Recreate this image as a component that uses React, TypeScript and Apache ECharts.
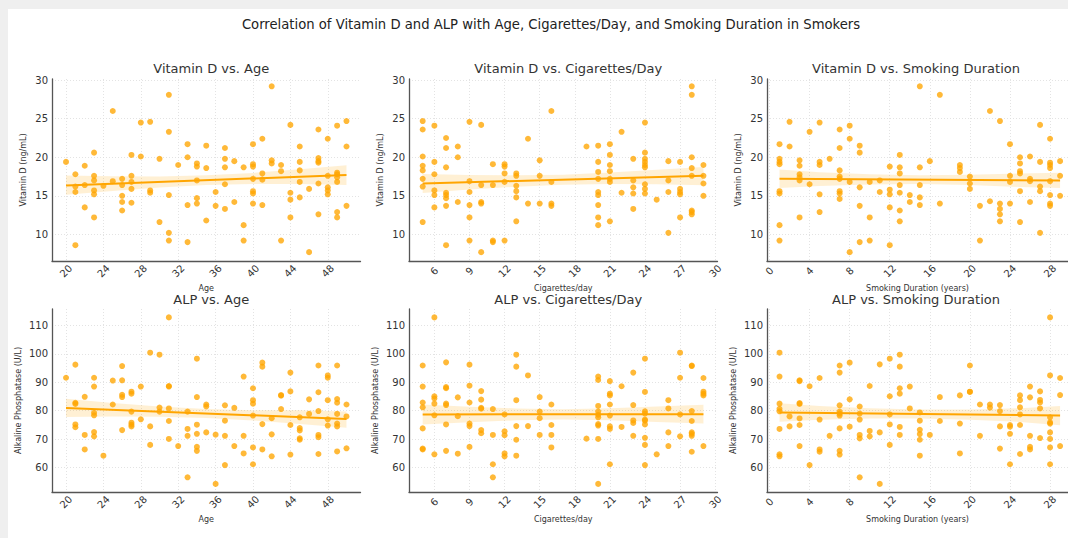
import React, { useEffect, useRef } from "react";
import * as echarts from "echarts";

// ---------- data ----------
const vitdAge: number[][] = [
  [20, 19.4],
  [21, 17.8], [21, 16.2], [21, 15.5], [21, 8.6],
  [22, 18.9], [22, 16.4], [22, 13.5],
  [23, 20.6], [23, 17.6], [23, 17.0], [23, 15.7], [23, 15.2], [23, 12.2],
  [24, 16.3],
  [25, 26.0], [25, 16.9],
  [26, 17.2], [26, 16.4], [26, 15.0], [26, 14.2], [26, 13.1],
  [27, 20.3], [27, 17.6], [27, 16.8], [27, 15.9], [27, 14.1],
  [28, 24.5], [28, 20.1],
  [29, 24.6], [29, 15.7], [29, 15.4],
  [30, 19.8], [30, 11.6],
  [31, 28.1], [31, 23.3], [31, 15.1], [31, 10.2], [31, 9.2],
  [32, 19.0],
  [33, 21.7], [33, 20.0], [33, 13.8], [33, 9.0],
  [34, 19.2], [34, 18.8], [34, 17.0], [34, 14.7], [34, 14.0],
  [35, 21.5], [35, 18.6], [35, 11.8],
  [36, 15.5], [36, 13.7],
  [37, 21.2], [37, 19.8], [37, 18.7], [37, 16.5], [37, 13.3],
  [38, 19.5], [38, 14.2],
  [39, 18.7], [39, 11.2], [39, 9.2],
  [40, 21.7], [40, 19.1], [40, 18.8], [40, 17.2], [40, 15.6], [40, 15.3], [40, 14.0],
  [41, 22.4], [41, 17.9], [41, 17.1], [41, 13.8],
  [42, 29.2], [42, 19.6], [42, 19.2],
  [43, 19.0], [43, 18.2], [43, 9.2],
  [44, 24.2], [44, 15.4], [44, 14.5], [44, 12.2],
  [45, 21.4], [45, 19.4], [45, 18.3], [45, 16.8], [45, 14.8],
  [46, 15.9], [46, 7.7],
  [47, 23.6], [47, 19.9], [47, 19.5], [47, 19.3], [47, 16.6], [47, 12.6],
  [48, 22.4], [48, 17.6], [48, 16.1], [48, 15.7], [48, 15.2],
  [49, 24.1], [49, 18.0], [49, 17.8], [49, 17.4], [49, 16.8], [49, 12.9], [49, 12.2],
  [50, 24.7], [50, 21.4], [50, 13.7],
];

const vitdCig: number[][] = [
  [5, 24.7], [5, 23.6], [5, 20.1], [5, 18.9], [5, 18.3], [5, 17.2], [5, 16.2], [5, 11.6],
  [6, 24.1], [6, 19.4], [6, 17.8], [6, 15.7], [6, 15.1], [6, 13.5],
  [7, 22.5], [7, 21.2], [7, 18.7], [7, 15.4], [7, 15.1], [7, 14.7], [7, 13.7], [7, 8.6],
  [8, 21.4], [8, 20.0], [8, 14.2],
  [9, 24.6], [9, 16.9], [9, 15.5], [9, 13.8], [9, 12.2], [9, 9.2],
  [10, 24.2], [10, 16.4], [10, 14.2], [10, 14.0], [10, 7.7],
  [11, 19.1], [11, 16.4], [11, 9.2], [11, 9.0],
  [12, 19.1], [12, 18.8], [12, 17.9], [12, 16.8], [12, 9.2],
  [13, 17.9], [13, 17.6], [13, 16.3], [13, 15.6], [13, 14.8], [13, 11.7],
  [14, 22.4], [14, 14.0],
  [15, 19.6], [15, 17.6], [15, 14.0],
  [16, 26.0], [16, 16.8], [16, 14.0], [16, 13.7],
  [19, 21.4],
  [20, 21.5], [20, 19.4], [20, 18.1], [20, 17.2], [20, 15.5], [20, 15.1], [20, 13.8], [20, 12.2], [20, 11.2],
  [21, 21.7], [21, 20.3], [21, 19.0], [21, 18.2], [21, 17.2], [21, 16.8], [21, 11.7],
  [22, 23.3], [22, 15.4],
  [23, 19.8], [23, 17.0], [23, 16.1], [23, 15.3], [23, 13.3],
  [24, 24.5], [24, 20.6], [24, 19.8], [24, 19.4], [24, 19.0], [24, 18.7], [24, 16.5], [24, 15.9], [24, 15.3],
  [25, 14.5],
  [26, 19.5], [26, 17.0], [26, 15.5], [26, 10.2],
  [27, 19.4], [27, 15.9], [27, 15.5], [27, 15.2], [27, 12.2],
  [28, 29.2], [28, 28.1], [28, 20.0], [28, 18.6], [28, 17.6], [28, 13.1], [28, 12.9], [28, 12.6],
  [29, 19.0], [29, 17.6], [29, 16.6], [29, 15.0],
];

const vitdDur: number[][] = [
  [1, 21.7], [1, 19.8], [1, 19.4], [1, 19.1], [1, 15.6], [1, 15.3], [1, 11.2], [1, 9.2],
  [2, 24.6], [2, 21.4],
  [3, 19.6], [3, 18.9], [3, 17.8], [3, 17.4], [3, 17.0], [3, 12.2],
  [4, 23.3], [4, 16.5],
  [5, 24.5], [5, 19.4], [5, 19.0], [5, 15.2], [5, 12.9],
  [6, 19.8],
  [7, 23.6], [7, 21.2], [7, 18.3], [7, 17.5], [7, 17.2], [7, 15.6], [7, 15.3], [7, 14.6],
  [8, 24.1], [8, 22.4], [8, 16.8], [8, 7.7],
  [9, 21.5], [9, 20.6], [9, 16.1], [9, 13.7], [9, 9.0],
  [10, 16.8], [10, 12.2], [10, 9.2],
  [11, 17.0], [11, 15.5],
  [12, 18.8], [12, 15.8], [12, 15.2], [12, 13.5], [12, 8.6],
  [13, 20.3], [13, 18.7], [13, 17.9], [13, 16.4], [13, 15.4], [13, 13.1], [13, 11.7],
  [14, 15.1], [14, 14.2],
  [15, 29.2], [15, 18.7], [15, 16.4], [15, 14.8], [15, 13.8],
  [16, 19.5],
  [17, 28.1], [17, 14.0],
  [19, 19.0], [19, 18.6], [19, 18.1],
  [20, 17.5], [20, 16.6], [20, 15.9],
  [21, 13.7], [21, 9.2],
  [22, 26.0], [22, 14.3],
  [23, 24.7], [23, 14.0], [23, 13.3], [23, 12.6], [23, 11.7],
  [24, 21.7], [24, 17.6], [24, 16.8], [24, 14.0],
  [25, 20.0], [25, 19.2], [25, 18.2], [25, 17.9], [25, 15.6], [25, 11.6],
  [26, 20.1], [26, 17.2], [26, 16.9], [26, 14.2],
  [27, 24.2], [27, 19.4], [27, 16.2], [27, 15.6], [27, 10.2],
  [28, 22.4], [28, 19.3], [28, 19.0], [28, 18.6], [28, 16.9], [28, 15.1], [28, 14.0], [28, 13.7],
  [29, 19.5], [29, 17.6], [29, 15.0],
];

const alpAge: number[][] = [
  [20, 91.6],
  [21, 96.2], [21, 82.8], [21, 82.4], [21, 75.2], [21, 74.2],
  [22, 84.9], [22, 71.5], [22, 66.4],
  [23, 91.6], [23, 88.5], [23, 79.3], [23, 78.4], [23, 72.5], [23, 71.0],
  [24, 64.2],
  [25, 90.6], [25, 82.2],
  [26, 95.7], [26, 90.7], [26, 85.6], [26, 84.8], [26, 73.2],
  [27, 86.7], [27, 86.0], [27, 79.7], [27, 75.8], [27, 75.1], [27, 74.5],
  [28, 88.5], [28, 77.0],
  [29, 100.4], [29, 74.5], [29, 68.0],
  [30, 99.7], [30, 81.1], [30, 79.7],
  [31, 112.8], [31, 88.7], [31, 88.5], [31, 80.8], [31, 76.4], [31, 70.1],
  [32, 67.6],
  [33, 79.7], [33, 73.6], [33, 71.2], [33, 56.6],
  [34, 98.3], [34, 84.8], [34, 75.1], [34, 71.9], [34, 67.3], [34, 65.9],
  [35, 82.2], [35, 81.5], [35, 72.4],
  [36, 71.6], [36, 54.3],
  [37, 81.9], [37, 76.5], [37, 71.2], [37, 60.9],
  [38, 81.0], [38, 67.6],
  [39, 92.0], [39, 71.2], [39, 65.0],
  [40, 87.9], [40, 83.7], [40, 82.5], [40, 78.3], [40, 67.1], [40, 61.2],
  [41, 96.9], [41, 95.5], [41, 75.3], [41, 66.4],
  [42, 77.4], [42, 71.7], [42, 64.0],
  [43, 85.5], [43, 85.3], [43, 80.6],
  [44, 93.4], [44, 86.8], [44, 75.0], [44, 64.6],
  [45, 77.7], [45, 73.9], [45, 73.1], [45, 70.3], [45, 69.8],
  [46, 84.0], [46, 78.9],
  [47, 95.9], [47, 86.5], [47, 79.9], [47, 71.5], [47, 70.7], [47, 64.8],
  [48, 92.4], [48, 91.6], [48, 83.7], [48, 77.0], [48, 74.8],
  [49, 95.9], [49, 84.1], [49, 82.8], [49, 78.9], [49, 75.5], [49, 74.5], [49, 65.7],
  [50, 82.2], [50, 78.0], [50, 66.8],
];

const alpCig: number[][] = [
  [5, 95.9], [5, 88.5], [5, 82.9], [5, 81.2], [5, 73.8], [5, 66.7], [5, 66.4],
  [6, 112.8], [6, 85.1], [6, 84.3], [6, 82.5], [6, 78.4], [6, 64.7],
  [7, 97.0], [7, 88.3], [7, 87.9], [7, 82.5], [7, 82.0], [7, 75.2], [7, 65.9],
  [8, 84.7], [8, 78.1], [8, 64.9],
  [9, 96.2], [9, 88.8], [9, 82.9], [9, 75.5], [9, 74.6], [9, 67.3],
  [10, 86.9], [10, 83.9], [10, 81.0], [10, 80.7], [10, 73.2], [10, 72.1],
  [11, 80.6], [11, 71.5], [11, 61.2], [11, 56.6],
  [12, 78.7], [12, 72.8], [12, 71.4], [12, 65.0], [12, 64.0],
  [13, 99.7], [13, 95.5], [13, 83.7], [13, 74.6], [13, 69.8], [13, 64.2],
  [14, 92.4], [14, 74.6],
  [15, 84.8], [15, 79.7], [15, 77.4], [15, 71.5],
  [16, 82.2], [16, 75.0], [16, 71.5], [16, 67.1],
  [19, 70.2],
  [20, 92.0], [20, 90.8], [20, 81.7], [20, 79.7], [20, 78.6], [20, 77.7], [20, 75.3], [20, 74.8], [20, 70.1], [20, 54.3],
  [21, 90.4], [21, 86.0], [21, 85.4], [21, 82.2], [21, 78.3], [21, 74.5], [21, 73.6], [21, 61.2],
  [22, 88.6], [22, 74.3],
  [23, 93.4], [23, 82.0], [23, 76.6], [23, 75.7], [23, 71.2],
  [24, 98.3], [24, 86.6], [24, 79.8], [24, 79.0], [24, 76.9], [24, 76.5], [24, 75.2], [24, 70.5], [24, 68.0], [24, 60.9],
  [25, 64.7],
  [26, 83.7], [26, 80.8], [26, 72.4], [26, 67.6],
  [27, 100.4], [27, 91.6], [27, 78.7], [27, 71.0],
  [28, 95.9], [28, 95.7], [28, 79.9], [28, 76.4], [28, 72.4], [28, 71.9], [28, 71.2], [28, 65.6],
  [29, 91.5], [29, 86.7], [29, 86.0], [29, 85.4], [29, 67.6],
];

const alpDur: number[][] = [
  [1, 100.4], [1, 92.0], [1, 82.5], [1, 80.7], [1, 79.8], [1, 73.6], [1, 64.7], [1, 64.0],
  [2, 78.0], [2, 74.5],
  [3, 90.7], [3, 90.4], [3, 82.7], [3, 82.4], [3, 77.3], [3, 75.0], [3, 67.6],
  [4, 88.6], [4, 60.9],
  [5, 91.5], [5, 76.9], [5, 66.4], [5, 65.6],
  [6, 71.2],
  [7, 95.9], [7, 93.4], [7, 81.9], [7, 79.7], [7, 79.0], [7, 78.3], [7, 73.8], [7, 65.9], [7, 64.6],
  [8, 96.9], [8, 84.0], [8, 74.4],
  [9, 81.5], [9, 79.0], [9, 76.9], [9, 71.5], [9, 70.3], [9, 56.6],
  [10, 88.7], [10, 72.9], [10, 71.0],
  [11, 96.3], [11, 72.4], [11, 54.3],
  [12, 98.3], [12, 85.1], [12, 78.7], [12, 75.2], [12, 68.0],
  [13, 99.7], [13, 95.5], [13, 87.9], [13, 86.0], [13, 74.3], [13, 71.5],
  [14, 88.5], [14, 80.8],
  [15, 79.4], [15, 76.5], [15, 73.3], [15, 71.8], [15, 69.8], [15, 64.2],
  [16, 71.5],
  [17, 84.8], [17, 76.4],
  [19, 85.4], [19, 75.5], [19, 65.0],
  [20, 95.9], [20, 86.7], [20, 86.6],
  [21, 82.2], [21, 71.2],
  [22, 82.2], [22, 81.1],
  [23, 82.0], [23, 79.9], [23, 74.5], [23, 66.7],
  [24, 75.0], [24, 74.4], [24, 71.9], [24, 61.2],
  [25, 85.4], [25, 83.7], [25, 81.2], [25, 78.7], [25, 75.0], [25, 64.8],
  [26, 88.5], [26, 84.7], [26, 71.2], [26, 67.3], [26, 66.4],
  [27, 86.8], [27, 83.8], [27, 82.9], [27, 80.8], [27, 70.4],
  [28, 112.8], [28, 92.4], [28, 77.7], [28, 75.9], [28, 75.5], [28, 72.4], [28, 70.1], [28, 67.1], [28, 61.2],
  [29, 91.5], [29, 85.5], [29, 67.6],
];

// regression lines: [x, y] endpoints
const lineVitdAge = [[20, 16.35], [50, 17.7]];
const lineVitdCig = [[5, 16.6], [29, 17.6]];
const lineVitdDur = [[1, 17.2], [29, 17.0]];
const lineAlpAge = [[20, 81.0], [50, 77.1]];
const lineAlpCig = [[5, 78.7], [29, 78.8]];
const lineAlpDur = [[1, 79.4], [29, 78.3]];

// confidence bands: [x, lower, upper]
const bandVitdAge = [[20, 15.15, 17.65], [25, 15.62, 17.54], [30, 16.08, 17.52], [35, 16.4, 17.66], [40, 16.53, 17.97], [45, 16.52, 18.44], [50, 16.4, 18.95]];
const bandVitdCig = [[5, 15.38, 17.82], [9, 15.83, 17.71], [13, 16.19, 17.67], [17, 16.45, 17.75], [21, 16.53, 18.01], [25, 16.49, 18.37], [29, 16.38, 18.75]];
const bandVitdDur = [[1, 16.0, 18.4], [5, 16.27, 18.07], [10, 16.47, 17.81], [15, 16.52, 17.68], [20, 16.39, 17.73], [25, 16.15, 17.91], [29, 16.0, 18.0]];
const bandAlpAge = [[20, 77.8, 84.2], [25, 77.95, 82.75], [30, 77.9, 81.5], [35, 77.45, 80.65], [40, 76.6, 80.2], [45, 75.35, 80.15], [50, 74.0, 79.7]];
const bandAlpCig = [[5, 75.2, 82.2], [9, 76.0, 81.4], [13, 76.63, 80.83], [17, 76.95, 80.55], [21, 76.67, 80.87], [25, 76.08, 81.48], [29, 75.5, 82.1]];
const bandAlpDur = [[1, 76.1, 82.6], [5, 76.84, 81.64], [10, 77.25, 80.85], [15, 77.25, 80.45], [20, 76.85, 80.45], [25, 76.06, 80.86], [29, 74.9, 81.7]];

// tick values
const ageTicks = [20, 24, 28, 32, 36, 40, 44, 48];
const cigTicks = [6, 9, 12, 15, 18, 21, 24, 27, 30];
const durTicks = [0, 4, 8, 12, 16, 20, 24, 28];
const vitdTicks = [10, 15, 20, 25, 30];
const alpTicks = [60, 70, 80, 90, 100, 110];

// axis settings
const xAge = { name: "Age", min: 18.5, max: 51.5, ticks: ageTicks };
const xCig = { name: "Cigarettes/day", min: 3.83, max: 30.2, ticks: cigTicks };
const xDur = { name: "Smoking Duration (years)", min: -0.25, max: 29.79, ticks: durTicks };
const yVitd = { name: "Vitamin D (ng/mL)", min: 6.55, max: 30.15, ticks: vitdTicks };
const yAlp = { name: "Alkaline Phosphatase (U/L)", min: 51.45, max: 115.75, ticks: alpTicks };

const mainTitle = "Correlation of Vitamin D and ALP with Age, Cigarettes/Day, and Smoking Duration in Smokers";
const panelTitles = [
  "Vitamin D vs. Age", "Vitamin D vs. Cigarettes/Day", "Vitamin D vs. Smoking Duration",
  "ALP vs. Age", "ALP vs. Cigarettes/Day", "ALP vs. Smoking Duration",
];

const panels = [
  { pts: vitdAge, line: lineVitdAge, band: bandVitdAge, x: xAge, y: yVitd },
  { pts: vitdCig, line: lineVitdCig, band: bandVitdCig, x: xCig, y: yVitd },
  { pts: vitdDur, line: lineVitdDur, band: bandVitdDur, x: xDur, y: yVitd },
  { pts: alpAge, line: lineAlpAge, band: bandAlpAge, x: xAge, y: yAlp },
  { pts: alpCig, line: lineAlpCig, band: bandAlpCig, x: xCig, y: yAlp },
  { pts: alpDur, line: lineAlpDur, band: bandAlpDur, x: xDur, y: yAlp },
];

const colLefts = [52, 409, 767];
const colWidths = [308.5, 308.5, 301];
const rowTops = [79, 309];
const rowHeights = [182, 183];
const titleTops = [56.5, 288];

const ORANGE = "#FFA500";
const FONT = "DejaVu Sans";

export default function App() {
  const ref = useRef<HTMLDivElement>(null);
  useEffect(() => {
    if (!ref.current) return;
    const chart = echarts.init(ref.current, undefined, { renderer: "svg" });
    const grid: any[] = [];
    const xAxis: any[] = [];
    const yAxis: any[] = [];
    const series: any[] = [];
    const title: any[] = [
      {
        text: mainTitle,
        left: 546,
        top: 13,
        textAlign: "center",
        textStyle: { fontSize: 13.2, fontWeight: "normal", color: "#222", fontFamily: FONT },
      },
    ];
    const splitLine = {
      show: true,
      lineStyle: { color: "#dcdcdc", type: [1, 2], width: 0.8 },
    };
    const axisLine = { show: true, onZero: false, lineStyle: { color: "#555", width: 1.3 } };
    panels.forEach((p, i) => {
      const row = Math.floor(i / 3);
      const col = i % 3;
      const left = colLefts[col];
      const width = colWidths[col];
      const top = rowTops[row];
      const height = rowHeights[row];
      grid.push({ left, top, width, height, containLabel: false });
      title.push({
        text: panelTitles[i],
        left: col === 2 ? 911 : left + width / 2,
        top: titleTops[row],
        textAlign: "center",
        textStyle: { fontSize: 13, fontWeight: "normal", color: "#333", fontFamily: FONT },
      });
      xAxis.push({
        type: "value",
        gridIndex: i,
        min: p.x.min,
        max: p.x.max,
        name: p.x.name,
        nameLocation: "middle",
        nameGap: 23,
        nameTextStyle: { fontSize: 8, color: "#333", fontFamily: FONT },
        axisLine,
        axisTick: { show: false, customValues: p.x.ticks },
        splitLine,
        axisLabel: {
          customValues: p.x.ticks,
          rotate: 45,
          fontSize: 10,
          color: "#333",
          fontFamily: FONT,
          align: "center",
          verticalAlign: "middle",
          margin: 10,
        },
      });
      yAxis.push({
        type: "value",
        gridIndex: i,
        min: p.y.min,
        max: p.y.max,
        name: p.y.name,
        nameLocation: "middle",
        nameGap: row === 0 ? 25 : 30,
        nameTextStyle: { fontSize: 8, color: "#333", fontFamily: FONT },
        axisLine,
        axisTick: { show: false, customValues: p.y.ticks },
        splitLine,
        axisLabel: {
          customValues: p.y.ticks,
          fontSize: 10,
          color: "#333",
          fontFamily: FONT,
          margin: 4,
        },
      });
      const band = p.band;
      series.push({
        type: "custom",
        xAxisIndex: i,
        yAxisIndex: i,
        silent: true,
        data: band,
        encode: { x: 0, y: [1, 2] },
        z: 1,
        renderItem: (params: any, api: any) => {
          if (params.dataIndex !== 0) return null;
          const upper = band.map((b) => api.coord([b[0], b[2]]));
          const lower = band.map((b) => api.coord([b[0], b[1]])).reverse();
          return {
            type: "polygon",
            shape: { points: upper.concat(lower) },
            style: { fill: "rgba(255,165,0,0.17)", stroke: "none" },
          };
        },
      });
      series.push({
        type: "scatter",
        xAxisIndex: i,
        yAxisIndex: i,
        data: p.pts,
        symbolSize: 6,
        z: 2,
        itemStyle: { color: ORANGE, opacity: 0.78 },
      });
      series.push({
        type: "line",
        xAxisIndex: i,
        yAxisIndex: i,
        data: p.line,
        symbol: "none",
        z: 3,
        lineStyle: { color: ORANGE, width: 2 },
      });
    });

    chart.setOption({
      animation: false,
      backgroundColor: "#ffffff",
      textStyle: { fontFamily: FONT },
      title,
      grid,
      xAxis,
      yAxis,
      series,
      graphic: [
        { type: "rect", shape: { x: 0, y: 0, width: 1068, height: 9 }, style: { fill: "#efefef" }, z: 100 },
        { type: "rect", shape: { x: 0, y: 0, width: 8, height: 538 }, style: { fill: "#efefef" }, z: 100 },
      ],
    });
    return () => chart.dispose();
  }, []);
  return (
    <div
      ref={ref}
      style={{ position: "fixed", left: 0, top: 0, width: 1068, height: 538 }}
    />
  );
}
